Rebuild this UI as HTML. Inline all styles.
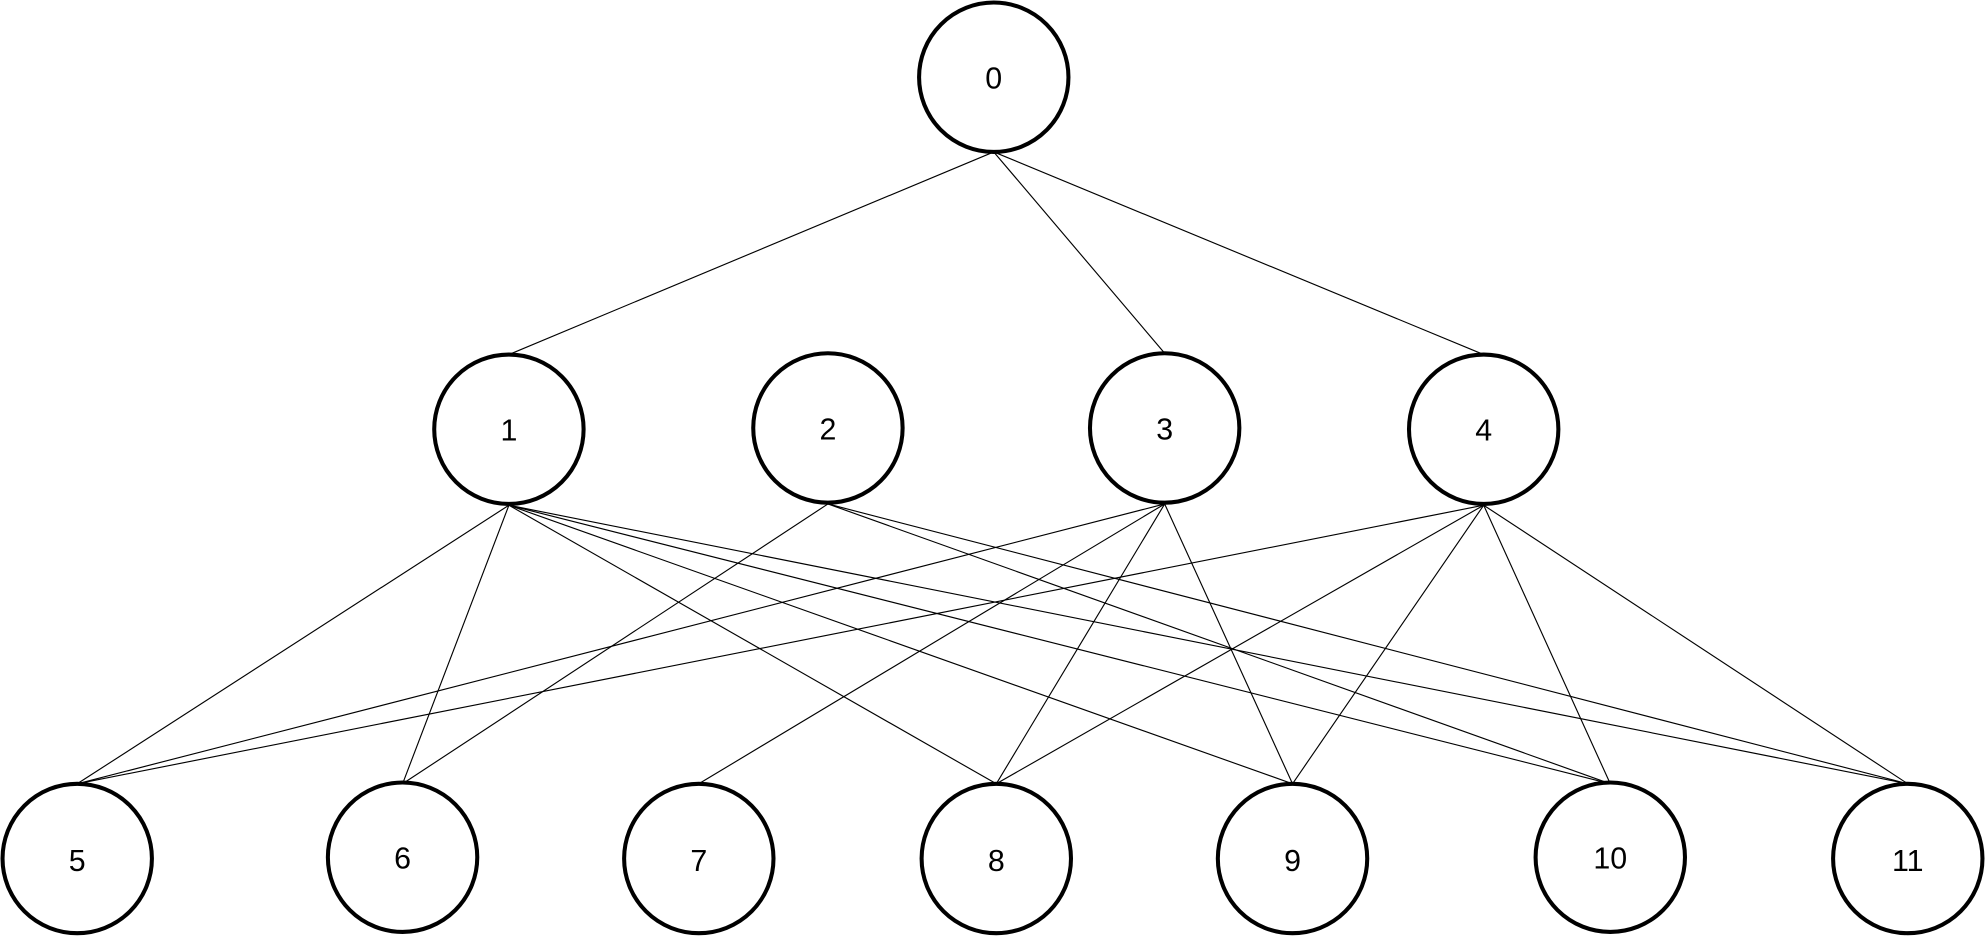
<!DOCTYPE html>
<html><head><meta charset="utf-8"><style>html,body{margin:0;padding:0;background:#fff;}svg{display:block}</style></head>
<body>
<svg width="1985" height="937" viewBox="0 0 1568 740" preserveAspectRatio="none" xmlns="http://www.w3.org/2000/svg">
<g stroke="#000" stroke-width="0.9" fill="none">
<line x1="785" y1="120" x2="402" y2="280"/>
<line x1="785" y1="120" x2="920" y2="279"/>
<line x1="785" y1="120" x2="1172" y2="280"/>
<line x1="402" y1="399" x2="61" y2="619"/>
<line x1="402" y1="399" x2="318" y2="619"/>
<line x1="402" y1="399" x2="787" y2="619"/>
<line x1="402" y1="399" x2="1021" y2="619"/>
<line x1="402" y1="399" x2="1272" y2="619"/>
<line x1="402" y1="399" x2="1507" y2="619"/>
<line x1="654" y1="398" x2="318" y2="619"/>
<line x1="654" y1="398" x2="1272" y2="619"/>
<line x1="654" y1="398" x2="1507" y2="619"/>
<line x1="920" y1="398" x2="61" y2="619"/>
<line x1="920" y1="398" x2="552" y2="619"/>
<line x1="920" y1="398" x2="787" y2="619"/>
<line x1="920" y1="398" x2="1021" y2="619"/>
<line x1="1172" y1="399" x2="61" y2="619"/>
<line x1="1172" y1="399" x2="787" y2="619"/>
<line x1="1172" y1="399" x2="1021" y2="619"/>
<line x1="1172" y1="399" x2="1272" y2="619"/>
<line x1="1172" y1="399" x2="1507" y2="619"/>
</g>
<g stroke="#000" stroke-width="3.2" fill="#fff">
<circle cx="785" cy="61" r="59"/>
<circle cx="402" cy="339" r="59"/>
<circle cx="654" cy="338" r="59"/>
<circle cx="920" cy="338" r="59"/>
<circle cx="1172" cy="339" r="59"/>
<circle cx="61" cy="678" r="59"/>
<circle cx="318" cy="677" r="59"/>
<circle cx="552" cy="678" r="59"/>
<circle cx="787" cy="678" r="59"/>
<circle cx="1021" cy="678" r="59"/>
<circle cx="1272" cy="677" r="59"/>
<circle cx="1507" cy="678" r="59"/>
</g>
<g font-family="Liberation Sans, sans-serif" font-size="24" text-anchor="middle" fill="#000">
<text x="785" y="70">0</text>
<text x="402" y="348">1</text>
<text x="654" y="347">2</text>
<text x="920" y="347">3</text>
<text x="1172" y="348">4</text>
<text x="61" y="688">5</text>
<text x="318" y="686">6</text>
<text x="552" y="688">7</text>
<text x="787" y="688">8</text>
<text x="1021" y="688">9</text>
<text x="1272" y="686">10</text>
<text x="1507" y="688">11</text>
</g>
</svg>
</body></html>
